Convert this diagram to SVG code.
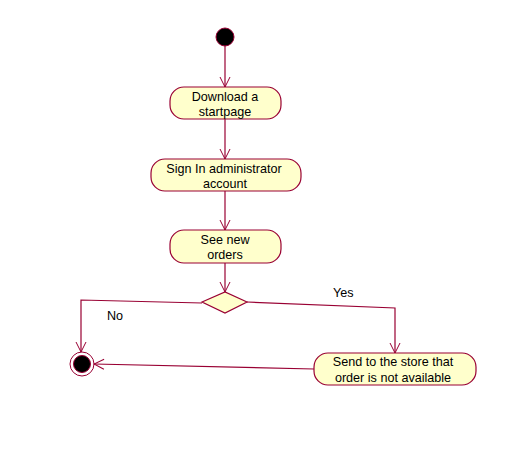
<svg xmlns="http://www.w3.org/2000/svg" width="526" height="458" viewBox="0 0 526 458">
<defs>
<marker id="arr" viewBox="0 0 12 12" refX="11" refY="6" markerWidth="12" markerHeight="12" markerUnits="userSpaceOnUse" orient="auto">
<path d="M1,1 L11,6 L1,11" fill="none" stroke="#990033" stroke-width="1"/>
</marker>
<style>
.act{fill:#ffffcc;stroke:#990033;stroke-width:1.2}
.t{font-family:"Liberation Sans",Arial,sans-serif;font-size:12.6px;fill:#000;text-anchor:middle}
.lbl{font-family:"Liberation Sans",Arial,sans-serif;font-size:12.6px;fill:#000}
.c{fill:none;stroke:#990033;stroke-width:1.2}
</style>
</defs>
<rect width="526" height="458" fill="#fff"/>
<g id="start"><circle cx="225" cy="37" r="9" fill="#000" stroke="#990033" stroke-width="1"/></g>
<g id="n1"><rect class="act" x="170" y="87" width="111" height="32" rx="14" ry="14"/>
<text class="t" x="225" y="101">Download a</text><text class="t" x="225" y="116">startpage</text></g>
<g id="n2"><rect class="act" x="151" y="159" width="150" height="32" rx="14" ry="14"/>
<text class="t" x="224" y="173">Sign In administrator</text><text class="t" x="225" y="188">account</text></g>
<g id="n3"><rect class="act" x="170" y="230" width="111" height="33" rx="14" ry="14"/>
<text class="t" x="225" y="244">See new</text><text class="t" x="225" y="259">orders</text></g>
<g id="decision"><polygon class="act" points="202,302 225,292 247,302 225,313"/></g>
<g id="n4"><rect class="act" x="314" y="353" width="162" height="32" rx="14" ry="14"/>
<text class="t" x="393" y="366">Send to the store that</text><text class="t" x="393" y="382">order is not available</text></g>
<g id="end"><circle cx="82" cy="364" r="12" fill="#fff" stroke="#990033" stroke-width="1"/><circle cx="82" cy="364" r="8.5" fill="#000" stroke="#990033" stroke-width="1"/></g>
<g id="connectors">
<line class="c" x1="225" y1="46" x2="225" y2="87" marker-end="url(#arr)"/>
<line class="c" x1="225" y1="119" x2="225" y2="159" marker-end="url(#arr)"/>
<line class="c" x1="225" y1="191" x2="225" y2="230" marker-end="url(#arr)"/>
<line class="c" x1="225" y1="263" x2="225" y2="292" marker-end="url(#arr)"/>
<polyline class="c" points="202,303 81,300 81,352" marker-end="url(#arr)"/>
<polyline class="c" points="247,302 395,308 395,353" marker-end="url(#arr)"/>
<line class="c" x1="314" y1="369" x2="94" y2="364" marker-end="url(#arr)"/>
<text class="lbl" x="107" y="320">No</text>
<text class="lbl" x="333" y="297">Yes</text>
</g>
</svg>
